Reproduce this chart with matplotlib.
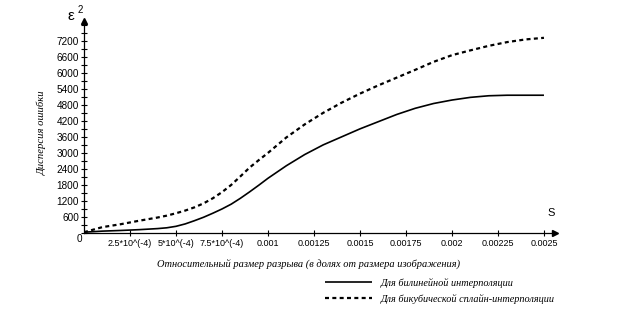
import matplotlib
matplotlib.use("Agg")
import matplotlib.pyplot as plt
from matplotlib.ticker import MultipleLocator, FixedLocator, FixedFormatter

s_values = [0.0, 0.0001, 0.0002, 0.0003, 0.0004, 0.00045, 0.0005, 0.00055, 0.0006,
            0.00065, 0.0007, 0.00075, 0.0008, 0.00085, 0.0009, 0.00095, 0.0010,
            0.0011, 0.0012, 0.0013, 0.0014, 0.0015, 0.0016, 0.0017,
            0.0018, 0.0019, 0.0020, 0.0021, 0.0022, 0.0023, 0.0024, 0.0025]
bilinear = [30, 70, 95, 125, 165, 195, 250, 340, 460, 590, 740, 900, 1080, 1300, 1540,
            1790, 2050, 2520, 2940, 3300, 3600, 3900, 4170, 4440, 4670, 4850, 4980,
            5080, 5140, 5160, 5160, 5160]
bicubic = [30, 220, 330, 460, 580, 650, 740, 840, 960, 1110, 1300, 1530, 1800, 2120,
           2450, 2730, 3000, 3580, 4070, 4500, 4880, 5220, 5530, 5820, 6110, 6410,
           6660, 6840, 7010, 7150, 7250, 7310]

x_ticks = [0.00025, 0.0005, 0.00075, 0.001, 0.00125, 0.0015, 0.00175, 0.002, 0.00225, 0.0025]
x_labels = ["2.5*10^(-4)", "5*10^(-4)", "7.5*10^(-4)", "0.001", "0.00125", "0.0015",
            "0.00175", "0.002", "0.00225", "0.0025"]
y_ticks = [600, 1200, 1800, 2400, 3000, 3600, 4200, 4800, 5400, 6000, 6600, 7200]

label_bilinear = "Для билинейной интерполяции"
label_bicubic = "Для бикубической сплайн-интерполяции"
xlabel = "Относительный размер разрыва (в долях от размера изображения)"
ylabel = "Дисперсия ошибки"

sans = "Liberation Sans"
serif = "Liberation Serif"

fig = plt.figure(figsize=(6.24, 3.12), dpi=100)
ax = fig.add_axes([84/624, 1-233/312, (555-84)/624, (233-21)/312])
ax.set_xlim(0, 0.00256)
ax.set_ylim(0, 7940)

l1, = ax.plot(s_values, bilinear, color="black", lw=1.2, solid_capstyle="butt")
l2, = ax.plot(s_values, bicubic, color="black", lw=1.6, linestyle=(0, (1.8, 1.5)))

for sp in ["top", "right"]:
    ax.spines[sp].set_visible(False)
for sp in ["left", "bottom"]:
    ax.spines[sp].set_linewidth(0.9)

ax.plot(1, 0, ">k", transform=ax.transAxes, clip_on=False, markersize=5)
ax.plot(0, 1, "^k", transform=ax.transAxes, clip_on=False, markersize=5)

ax.xaxis.set_major_locator(FixedLocator(x_ticks))
ax.xaxis.set_major_formatter(FixedFormatter(x_labels))
ax.yaxis.set_major_locator(FixedLocator(y_ticks))
ax.yaxis.set_minor_locator(MultipleLocator(300))
ax.tick_params(axis="both", which="both", direction="inout", length=5, width=0.8, pad=1)
ax.tick_params(axis="y", labelsize=7.2)
ax.tick_params(axis="x", labelsize=6.5, pad=2)
for t in ax.get_xticklabels() + ax.get_yticklabels():
    t.set_fontfamily(sans)

ax.text(-0.003, -0.005, "0", transform=ax.transAxes, ha="right", va="top",
        fontsize=7.2, fontfamily=sans)
fig.text(71/624, 1-16/312, "ε", fontsize=11, fontfamily=sans, ha="center", va="center")
fig.text(80/624, 1-10/312, "2", fontsize=7, fontfamily=sans, ha="center", va="center")
fig.text(551/624, 1-213/312, "S", fontsize=8, fontfamily=sans, ha="center", va="center")

fig.text(309/624, 1-265/312, xlabel, fontsize=7.5, fontfamily=serif, style="italic",
         ha="center", va="center")
fig.text(42/624, 1-133/312, ylabel, fontsize=7.7, fontfamily=serif, style="italic",
         ha="center", va="center", rotation=90)

leg = ax.legend([l1, l2], [label_bilinear, label_bicubic], loc="upper left",
                bbox_to_anchor=(325/624, 1-278/312), bbox_transform=fig.transFigure,
                frameon=False, handlelength=4.6, fontsize=7.4, labelspacing=0.55,
                handletextpad=0.8, borderpad=0, borderaxespad=0)
for t in leg.get_texts():
    t.set_fontfamily(serif)
    t.set_style("italic")

fig.savefig("out.png", dpi=100)
